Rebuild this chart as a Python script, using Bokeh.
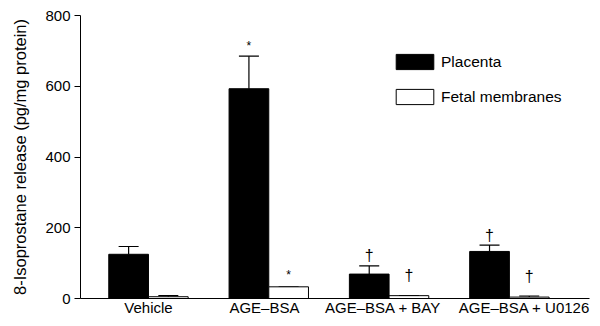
from bokeh.plotting import figure
from bokeh.models import (ColumnDataSource, Range1d, FixedTicker, Whisker, TeeHead,
                          Legend, LegendItem)
from bokeh.core.properties import value
from bokeh.embed import file_html
from bokeh.resources import INLINE

# ---- data ----
categories = ["Vehicle", "AGE\u2013BSA", "AGE\u2013BSA + BAY", "AGE\u2013BSA + U0126"]
placenta = [125, 593, 69, 133]
placenta_err = [22, 92, 23, 18]
fetal = [5, 33, 8, 4]
fetal_err = [3, 0, 0, 3]
placenta_marks = ["", "*", "\u2020", "\u2020"]
fetal_marks = ["", "*", "\u2020", "\u2020"]
y_ticks = [0, 200, 400, 600, 800]

# ---- styling ----
FONT = "Liberation Sans"
bar_w = 0.33
xs = list(range(len(categories)))
px = [x - bar_w / 2 for x in xs]
fx = [x + bar_w / 2 for x in xs]
label_pos = [0.0, 0.964, 1.95, 3.125]   # label anchors (slightly nudged as in original)

p = figure(width=592, height=318, output_backend="svg", toolbar_location=None,
           x_range=Range1d(-0.565, 3.666), y_range=Range1d(0, 800),
           min_border_left=80, min_border_right=3, min_border_top=15, min_border_bottom=16)
p.outline_line_color = None
p.grid.visible = False
p.background_fill_color = "white"

src_p = ColumnDataSource(dict(x=px, top=placenta, up=[v + e for v, e in zip(placenta, placenta_err)]))
src_f = ColumnDataSource(dict(x=fx, top=fetal, up=[v + e for v, e in zip(fetal, fetal_err)]))

rp = p.vbar(x="x", top="top", width=bar_w, source=src_p, fill_color="black", line_color="black",
            line_width=1)
rf = p.vbar(x="x", top="top", width=bar_w, source=src_f, fill_color="white", line_color="black",
            line_width=1)

for src in (src_p, src_f):
    w = Whisker(base="x", lower="top", upper="up", source=src, dimension="height",
                line_color="black", line_width=1.2,
                upper_head=TeeHead(size=20, line_color="black", line_width=1.2), lower_head=None)
    p.add_layout(w)


def mark_src(xpos, vals, errs, marks, sym):
    idx = [i for i in range(len(marks)) if marks[i] == sym]
    return ColumnDataSource(dict(x=[xpos[i] for i in idx], y=[vals[i] + errs[i] for i in idx]))


star_p = mark_src(px, placenta, placenta_err, placenta_marks, "*")
star_f = mark_src(fx, fetal, fetal_err, fetal_marks, "*")
dag_p = mark_src(px, placenta, placenta_err, placenta_marks, "\u2020")
dag_f = mark_src(fx, fetal, fetal_err, fetal_marks, "\u2020")

for src, txt, size, off in ((star_p, "*", "12px", -10), (star_f, "*", "12px", -12),
                            (dag_p, "\u2020", "16px", -10), (dag_f, "\u2020", "16px", -20)):
    p.text(x="x", y="y", text=value(txt), source=src, text_font=value(FONT),
           text_font_size=value(size), text_align="center", text_baseline="middle",
           y_offset=off, text_color="black")

# axes
xa = p.xaxis[0]
xa.ticker = FixedTicker(ticks=label_pos)
xa.major_label_overrides = {label_pos[i]: c for i, c in enumerate(categories)}
xa.major_tick_out = 0
xa.major_tick_in = 0
xa.minor_tick_out = 0
xa.minor_tick_in = 0
xa.major_label_standoff = 0
xa.major_label_text_font = FONT
xa.major_label_text_font_size = "15px"
xa.major_label_text_color = "black"
xa.axis_line_color = "black"

ya = p.yaxis[0]
ya.ticker = FixedTicker(ticks=y_ticks)
ya.major_tick_out = 6
ya.major_tick_in = 0
ya.minor_tick_out = 0
ya.minor_tick_in = 0
ya.major_label_standoff = 4
ya.major_label_text_font = FONT
ya.major_label_text_font_size = "15px"
ya.major_label_text_color = "black"
ya.axis_label = "8-Isoprostane release (pg/mg protein)"
ya.axis_label_text_font = FONT
ya.axis_label_text_font_size = "16.5px"
ya.axis_label_text_font_style = "normal"
ya.axis_label_text_color = "black"
ya.axis_label_standoff = 13
ya.axis_line_color = "black"

legend = Legend(items=[LegendItem(label="Placenta", renderers=[rp]),
                       LegendItem(label="Fetal membranes", renderers=[rf])],
                location=(311, 192), glyph_width=47, glyph_height=19, label_height=18,
                spacing=16, padding=0, margin=0, label_standoff=3,
                label_text_font=FONT, label_text_font_size="15.5px", label_text_color="black",
                border_line_alpha=0, background_fill_alpha=0)
p.add_layout(legend)

open("out.html", "w").write(file_html(p, INLINE))
